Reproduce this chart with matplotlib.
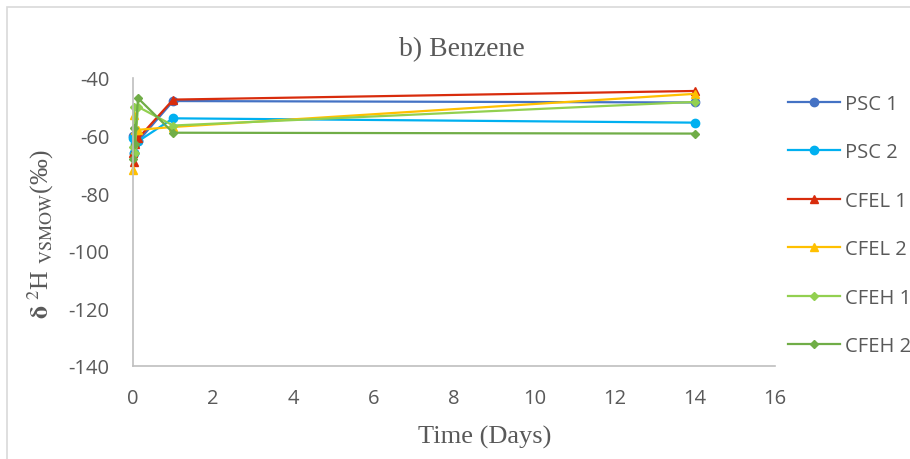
import matplotlib
matplotlib.use("Agg")
import matplotlib.pyplot as plt
from matplotlib.patches import Rectangle

plt.rcParams["axes.unicode_minus"] = False

# ---- data ----
series_names = ["PSC 1", "PSC 2", "CFEL 1", "CFEL 2", "CFEH 1", "CFEH 2"]
psc1_x = [0, 0.02, 0.04, 0.125, 1, 14]
psc1_y = [-60, -66, -61, -62, -48, -48.5]
psc2_x = [0, 0.02, 0.04, 0.125, 1, 14]
psc2_y = [-61, -66, -63, -62, -54, -55.5]
cfel1_x = [0, 0.02, 0.04, 0.125, 1, 14]
cfel1_y = [-66, -69, -63, -61, -47.5, -44.5]
cfel2_x = [0, 0.02, 0.04, 0.125, 1, 14]
cfel2_y = [-72, -53, -58, -58, -57, -45.5]
cfeh1_x = [0, 0.02, 0.04, 0.125, 1, 14]
cfeh1_y = [-64, -50, -66, -50, -56.5, -48.3]
cfeh2_x = [0, 0.02, 0.04, 0.125, 1, 14]
cfeh2_y = [-68, -57.5, -63, -47, -59, -59.3]

x_ticks = [0, 2, 4, 6, 8, 10, 12, 14, 16]
y_ticks = [-140, -120, -100, -80, -60, -40]

colors = ["#4472C4", "#00B0F0", "#D82C0C", "#FFC000", "#92D050", "#70AD47"]
markers = ["o", "o", "^", "^", "D", "D"]
msizes = [6, 6, 6, 6, 4, 4]

xs = [psc1_x, psc2_x, cfel1_x, cfel2_x, cfeh1_x, cfeh2_x]
ys = [psc1_y, psc2_y, cfel1_y, cfel2_y, cfeh1_y, cfeh2_y]

fig = plt.figure(figsize=(9.10, 4.60), dpi=100)
fig.patches.append(Rectangle((7/910, -0.05), 1, 1.05 - 8/460, transform=fig.transFigure,
                             fill=False, edgecolor="#D9D9D9", linewidth=1.2))
ax = fig.add_axes([133/910, 1 - 367/460, 642/910, 288/460])

for x, y, c, m, ms, name in zip(xs, ys, colors, markers, msizes, series_names):
    ax.plot(x, y, color=c, marker=m, markersize=ms, linewidth=1.6, label=name,
            markeredgecolor=c, clip_on=False)

ax.set_xlim(0, 16)
ax.set_ylim(-140, -40)
ax.set_xticks(x_ticks)
ax.set_yticks(y_ticks)
for s in ["top", "right"]:
    ax.spines[s].set_visible(False)
for s in ["left", "bottom"]:
    ax.spines[s].set_color("#BFBFBF")
    ax.spines[s].set_linewidth(1.2)
ax.tick_params(axis="x", length=0, labelsize=14.5, colors="#595959", pad=16)
ax.tick_params(axis="y", length=0, labelsize=14.5, colors="#595959", pad=17)
for lbl in ax.get_xticklabels() + ax.get_yticklabels():
    lbl.set_family("Open Sans")

fig.text(462/910, 1 - 50/460, "b) Benzene", family="Liberation Serif", fontsize=20,
         color="#595959", ha="center", va="center")
fig.text(485/910, 1 - 437/460, "Time (Days)", family="Liberation Serif", fontsize=19,
         color="#595959", ha="center", va="center")
fig.text(41/910, 1 - 234/460, r"$\mathbf{\delta}$ $^{2}$H $_{\mathrm{VSMOW}}$(‰)",
         family="Liberation Serif", fontsize=18.5, color="#595959", rotation=90,
         ha="center", va="center", math_fontfamily="stix")

leg = ax.legend(loc="upper left", bbox_to_anchor=(788/910, 1 - 95/460),
                bbox_transform=fig.transFigure, frameon=False, labelspacing=1.41,
                handlelength=2.6, handletextpad=0.25, borderpad=0, borderaxespad=0,
                prop={"family": "Open Sans", "size": 14.5})
for t in leg.get_texts():
    t.set_color("#595959")

fig.savefig("out.png", dpi=100)
